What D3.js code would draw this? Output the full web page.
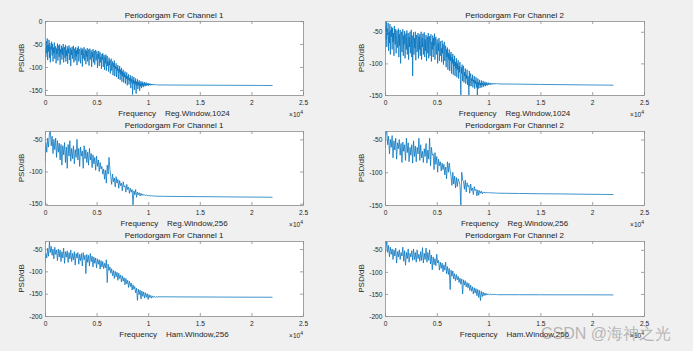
<!DOCTYPE html>
<html><head><meta charset="utf-8">
<script src="https://cdn.jsdelivr.net/npm/d3@7"></script>
<style>
html,body{margin:0;padding:0;background:#f0f0f0;}
svg{display:block;}
text{font-family:"Liberation Sans",Arial,Helvetica,sans-serif;}
</style></head><body>
<svg id="chart" width="693" height="351"></svg>
<script>
// ---------- data ----------
const binStepFine = 22050 / 512;             // Hz between values, 1024-point window
const binStepCoarse = 22050 / 256;           // Hz between values, 256-point window
const xTicks = [0, 5000, 10000, 15000, 20000, 25000];
const xTickLabels = ["0", "0.5", "1", "1.5", "2", "2.5"];
const xExponent = "4";

const titles = ["Periodorgam For Channel 1", "Periodorgam For Channel 2",
                "Periodorgam For Channel 1", "Periodorgam For Channel 2",
                "Periodorgam For Channel 1", "Periodorgam For Channel 2"];
const xLabels = ["Frequency    Reg.Window,1024", "Frequency    Reg.Window,1024",
                 "Frequency    Reg.Window,256", "Frequency    Reg.Window,256",
                 "Frequency    Ham.Window,256", "Frequency    Ham.Window,256"];
const yLabel = "PSD/dB";
const yLimits = [[-161, 0], [-150, -33], [-152, -37], [-150, -37], [-200, -32], [-200, -30]];
const yTicks = [[-150, -100, -50, 0], [-150, -100, -50], [-150, -100, -50], [-150, -100, -50],
                [-200, -150, -100, -50], [-200, -150, -100, -50]];

const ch1Reg1024 = [
 -92,-60,-78,-44,-70,-38,-85,-52,-66,-41,-80,-48,-90,-56,-62,-45,
 -75,-50,-88,-58,-70,-47,-82,-64,-55,-92,-60,-72,-49,-86,-66,-53,
 -78,-51,-95,-62,-70,-54,-84,-58,-74,-50,-90,-66,-57,-80,-52,-88,
 -64,-76,-55,-93,-60,-70,-53,-85,-68,-58,-98,-62,-74,-56,-82,-66,
 -54,-90,-70,-60,-86,-57,-77,-64,-96,-59,-72,-55,-88,-66,-61,-80,
 -92,-58,-74,-63,-99,-60,-82,-68,-57,-86,-71,-62,-94,-65,-78,-59,
 -88,-66,-62,-97,-70,-60,-84,-74,-64,-100,-68,-79,-61,-90,-72,-65,
 -95,-70,-63,-86,-76,-66,-102,-72,-82,-65,-98,-74,-68,-90,-78,-104,
 -72,-84,-70,-100,-80,-74,-106,-78,-92,-73,-108,-84,-76,-98,-88,-110,
 -80,-96,-85,-114,-90,-82,-108,-94,-88,-118,-92,-100,-86,-120,-98,-104,
 -92,-122,-100,-108,-96,-126,-104,-112,-98,-128,-106,-116,-102,-132,-110,-120,
 -106,-134,-114,-122,-110,-136,-118,-126,-112,-140,-120,-128,-116,-138,-124,-130,
 -118,-146,-126,-134,-120,-160,-128,-136,-122,-150,-130,-138,-125,-158,-132,-140,
 -127,-148,-133,-140,-129,-152,-134,-142,-131,-146,-135,-141,-132,-144,-136,-140,
 -133,-142,-136,-140,-134,-141,-137,-139.5,-135,-140.5,-137,-139,-136,-140,-137.5,-139,
 -137,-139.5,-138,-139,-137.5,-139.5,-138.2,-139,-138,-139.4,-138.4,-139.2,-138.5,-139.3,-138.7,-139.1];
const ch1Reg1024Tail = [[11500,-139.2],[13000,-139.4],[15000,-139.6],[17000,-139.8],[19000,-140],[21000,-140.2],[22050,-140.3]];

const ch2Reg1024 = [
 -85,-40,-62,-33,-74,-45,-55,-36,-80,-50,-68,-38,-86,-47,-58,-42,
 -78,-44,-66,-52,-88,-41,-60,-70,-46,-84,-56,-48,-75,-62,-45,-90,
 -54,-72,-47,-100,-58,-50,-82,-64,-46,-88,-56,-70,-49,-92,-60,-53,
 -78,-48,-86,-66,-52,-94,-58,-74,-50,-84,-62,-47,-90,-56,-120,-68,
 -51,-86,-60,-76,-50,-95,-64,-55,-82,-70,-52,-92,-58,-78,-54,-88,
 -66,-50,-94,-60,-74,-53,-86,-68,-51,-90,-62,-80,-55,-96,-64,-58,
 -84,-52,-92,-70,-57,-88,-63,-54,-97,-66,-78,-56,-90,-60,-72,-53,
 -94,-64,-58,-86,-70,-62,-100,-68,-80,-60,-96,-72,-65,-88,-76,-98,
 -64,-84,-70,-102,-74,-66,-96,-80,-72,-106,-78,-90,-75,-110,-84,-94,
 -78,-112,-86,-96,-82,-116,-90,-100,-85,-118,-94,-104,-88,-120,-98,-108,
 -92,-122,-100,-110,-95,-124,-104,-114,-98,-126,-150,-106,-116,-102,-128,-112,
 -104,-130,-114,-120,-108,-132,-118,-124,-110,-134,-120,-126,-150,-112,-136,-122,
 -116,-136,-124,-128,-118,-138,-126,-130,-120,-140,-127,-132,-122,-138,-129,-150,
 -124,-140,-130,-134,-126,-139,-131,-135,-127,-138,-131,-134,-128,-137,-132,-134.5,
 -129,-136,-131.5,-134,-130,-135,-132,-133.5,-130.5,-134,-132,-133,-131,-133.5,-132,-133,
 -131.5,-133,-132,-132.8,-131.6,-133,-132,-132.6,-131.8,-132.8,-132.1,-132.6,-132,-132.7,-132.2,-132.5];
const ch2Reg1024Tail = [[11500,-132.6],[13000,-132.9],[15000,-133.3],[17000,-133.6],[19000,-134],[21000,-134.3],[22050,-134.5]];

const ch1Reg256 = [
 -85,-55,-70,-48,-62,-40,-37,-60,-45,-72,-50,-66,-48,-78,-52,-70,
 -56,-82,-58,-90,-60,-74,-55,-86,-62,-95,-58,-76,-52,-84,-64,-80,
 -60,-88,-66,-78,-50,-82,-64,-92,-62,-76,-68,-95,-60,-80,-66,-86,
 -70,-90,-64,-82,-72,-94,-74,-88,-78,-98,-76,-92,-82,-100,-86,-96,
 -92,-104,-96,-112,-98,-118,-90,-104,-78,-96,-108,-120,-104,-116,-110,-124,
 -108,-118,-112,-126,-114,-122,-118,-130,-116,-124,-122,-132,-120,-128,-124,-134,
 -126,-132,-128,-152,-130,-136,-128,-140,-132,-136,-133,-138,-134,-137,-135,-137,
 -136,-137.5,-136.5,-137.5,-137,-138,-137.2,-138,-137.5,-138.2,-137.8,-138.3,-138,-138.3,-138.2,-138.4];
const ch1Reg256Tail = [[11500,-138.5],[13000,-138.8],[15000,-139],[17000,-139.3],[19000,-139.6],[21000,-139.8],[22050,-140]];

const ch2Reg256 = [
 -63,-42,-37,-58,-45,-72,-50,-62,-44,-78,-52,-66,-48,-80,-55,-64,
 -50,-74,-56,-85,-54,-68,-58,-82,-48,-70,-55,-84,-62,-74,-58,-86,
 -52,-76,-60,-84,-62,-72,-48,-82,-58,-78,-68,-85,-64,-76,-56,-86,
 -66,-80,-48,-90,-62,-74,-72,-96,-70,-88,-76,-100,-80,-90,-84,-98,
 -86,-96,-88,-104,-92,-110,-84,-100,-86,-98,-106,-120,-100,-118,-106,-124,
 -108,-122,-110,-114,-120,-150,-100,-112,-114,-126,-112,-130,-116,-122,-120,-132,
 -118,-128,-124,-134,-122,-128,-126,-136,-127,-135,-128,-132,-129,-133,-130,-131.5,
 -130.5,-131.5,-130.8,-131.3,-131,-131.5,-131.2,-131.6,-131.4,-131.7,-131.5,-131.8,-131.6,-131.9,-131.8,-132];
const ch2Reg256Tail = [[11500,-132.1],[13000,-132.4],[15000,-132.8],[17000,-133.1],[19000,-133.5],[21000,-133.8],[22050,-134]];

const ch1Ham256 = [
 -82,-60,-70,-48,-66,-34,-58,-44,-64,-50,-72,-46,-62,-52,-76,-50,
 -68,-52,-78,-56,-70,-48,-82,-56,-68,-54,-80,-58,-72,-52,-78,-60,
 -74,-56,-86,-60,-70,-58,-84,-62,-76,-60,-88,-58,-74,-64,-105,-62,
 -80,-64,-88,-60,-78,-66,-90,-68,-82,-70,-92,-72,-84,-74,-95,-76,
 -90,-78,-94,-82,-92,-74,-125,-84,-98,-90,-104,-94,-110,-98,-116,-100,
 -112,-102,-120,-104,-116,-108,-124,-110,-122,-114,-130,-116,-128,-120,-136,-122,
 -134,-126,-142,-130,-140,-134,-148,-138,-165,-140,-152,-142,-162,-144,-156,-146,
 -160,-148,-158,-150,-163,-152,-159,-154,-160,-155,-158,-156,-158.5,-156.5,-158,-157];
const ch1Ham256Tail = [[11500,-157],[13000,-157.2],[15000,-157.4],[17000,-157.6],[19000,-157.8],[21000,-157.9],[22050,-158]];

const ch2Ham256 = [
 -63,-48,-30,-56,-40,-66,-44,-60,-48,-72,-50,-64,-46,-80,-54,-66,
 -50,-72,-56,-64,-44,-76,-52,-85,-56,-70,-48,-78,-58,-66,-52,-74,
 -48,-72,-56,-78,-50,-70,-60,-76,-54,-74,-45,-80,-58,-72,-46,-78,
 -56,-74,-50,-82,-62,-95,-66,-84,-70,-86,-60,-80,-74,-96,-78,-92,
 -80,-100,-84,-96,-78,-104,-88,-106,-92,-140,-96,-110,-98,-116,-104,-120,
 -106,-118,-110,-124,-114,-128,-116,-150,-118,-130,-120,-134,-124,-136,-126,-142,
 -130,-144,-134,-150,-136,-148,-138,-154,-140,-158,-142,-165,-144,-156,-146,-154,
 -148,-153,-149,-152.5,-150,-152,-150.5,-151.8,-150.8,-151.6,-151,-151.5,-151.2,-151.6,-151.4,-151.8];
const ch2Ham256Tail = [[11500,-151.7],[13000,-151.8],[15000,-151.9],[17000,-152],[19000,-152],[21000,-152.1],[22050,-152.2]];

const seriesValues = [ch1Reg1024, ch2Reg1024, ch1Reg256, ch2Reg256, ch1Ham256, ch2Ham256];
const seriesSteps = [binStepFine, binStepFine, binStepCoarse, binStepCoarse, binStepCoarse, binStepCoarse];
const seriesTails = [ch1Reg1024Tail, ch2Reg1024Tail, ch1Reg256Tail, ch2Reg256Tail, ch1Ham256Tail, ch2Ham256Tail];
const watermark = "CSDN @海神之光";

// ---------- drawing ----------
const svg = d3.select("#chart");
svg.append("rect").attr("width", 693).attr("height", 351).attr("fill", "#f0f0f0");

const colX = [45, 385], colW = [258, 259];
const rowY = [21, 131, 241], rowH = [74, 74, 75];
const axisColor = "#8c8c8c", textColor = "#262626";
const defs = svg.append("defs");

seriesValues.forEach((vals, k) => {
  const col = k % 2, row = Math.floor(k / 2);
  const x0 = colX[col], y0 = rowY[row], w = colW[col], h = rowH[row];
  const x = d3.scaleLinear().domain([0, 25000]).range([x0, x0 + w]);
  const y = d3.scaleLinear().domain(yLimits[k]).range([y0 + h, y0]);
  const g = svg.append("g");

  g.append("rect").attr("x", x0).attr("y", y0).attr("width", w).attr("height", h).attr("fill", "#fff");

  defs.append("clipPath").attr("id", "clip" + k).append("rect")
    .attr("x", x0).attr("y", y0).attr("width", w).attr("height", h);

  const pts = vals.map((v, i) => [i * seriesSteps[k], v]).concat(seriesTails[k]);
  g.append("path").datum(pts)
    .attr("clip-path", `url(#clip${k})`)
    .attr("fill", "none").attr("stroke", "#0072BD").attr("stroke-width", 0.75)
    .attr("stroke-linejoin", "round")
    .attr("d", d3.line().x(d => x(d[0])).y(d => y(d[1])));

  const styleAxis = sel => {
    sel.select(".domain").attr("stroke", axisColor).attr("stroke-width", 0.8);
    sel.selectAll(".tick line").attr("stroke", axisColor).attr("stroke-width", 0.8);
    sel.selectAll("text").attr("fill", textColor).attr("font-size", 6.6)
      .attr("font-family", '"Liberation Sans",Arial,sans-serif');
  };

  g.append("g").attr("transform", `translate(0,${y0 + h})`)
    .call(d3.axisBottom(x).tickValues(xTicks).tickFormat((d, i) => xTickLabels[i])
      .tickSizeInner(-3).tickSizeOuter(0).tickPadding(5.6))
    .call(styleAxis);
  g.append("g").attr("transform", `translate(0,${y0})`)
    .call(d3.axisTop(x).tickValues(xTicks).tickFormat("").tickSizeInner(-3).tickSizeOuter(0))
    .call(styleAxis);
  g.append("g").attr("transform", `translate(${x0},0)`)
    .call(d3.axisLeft(y).tickValues(yTicks[k]).tickFormat(d => String(d))
      .tickSizeInner(-3).tickSizeOuter(0).tickPadding(2.6))
    .call(styleAxis);
  g.append("g").attr("transform", `translate(${x0 + w},0)`)
    .call(d3.axisRight(y).tickValues(yTicks[k]).tickFormat("").tickSizeInner(-3).tickSizeOuter(0))
    .call(styleAxis);

  // title
  g.append("text").attr("x", x0 + w / 2).attr("y", y0 - 3.5)
    .attr("text-anchor", "middle").attr("font-size", 8).attr("fill", "#1a1a1a")
    .text(titles[k]);
  // x label
  g.append("text").attr("x", x0 + w / 2).attr("y", y0 + h + 21)
    .attr("text-anchor", "middle").attr("font-size", 8).attr("fill", textColor)
    .attr("xml:space", "preserve").style("white-space", "pre")
    .text(xLabels[k]);
  // y label
  g.append("text")
    .attr("transform", `translate(${x0 - 21},${y0 + h / 2}) rotate(-90)`)
    .attr("text-anchor", "middle").attr("font-size", 8).attr("fill", textColor)
    .text(yLabel);
  // exponent
  const ex = g.append("text").attr("x", x0 + w).attr("y", y0 + h + 22)
    .attr("text-anchor", "end").attr("font-size", 6.6).attr("fill", textColor);
  ex.append("tspan").text("\u00d710");
  ex.append("tspan").attr("dy", -3).attr("font-size", 5).text(xExponent);
});

svg.append("text").attr("x", 541).attr("y", 339)
  .attr("font-family", '"Noto Sans CJK SC","Noto Sans",sans-serif')
  .attr("font-size", 16).attr("fill", "rgba(120,120,120,0.5)")
  .text(watermark);
</script>
</body></html>
